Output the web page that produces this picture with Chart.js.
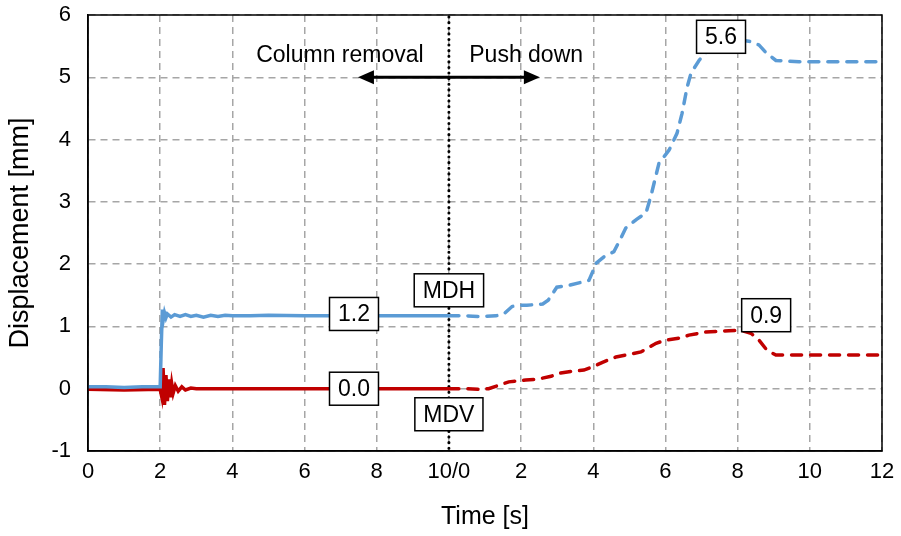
<!DOCTYPE html>
<html>
<head>
  <meta charset="UTF-8">
  <title>Displacement vs time</title>
  <script src="https://cdn.jsdelivr.net/npm/chart.js"></script>
  <style>
    body { margin: 0; background: #fff; }
    #chart-container { width: 901px; height: 536px; }
  </style>
</head>
<body>
  <div id="chart-container">
    <canvas id="graphCanvas"></canvas>
  </div>

  <script>
    // phase 1: column removal, time 0..10 s
    var mdhRemovalT = [0, 0.5, 1, 1.5, 2.0, 2.03, 2.06, 2.09, 2.12, 2.16, 2.2, 2.3, 2.4, 2.55, 2.7, 2.85, 3.0, 3.2, 3.4, 3.6, 3.8, 4.0, 4.5, 5, 6, 7, 8, 9, 10];
    var mdhRemoval  = [0.03, 0.03, 0.02, 0.03, 0.03, 0.7, 1.27, 1.12, 1.22, 1.14, 1.2, 1.15, 1.19, 1.16, 1.19, 1.16, 1.18, 1.15, 1.18, 1.16, 1.18, 1.17, 1.17, 1.18, 1.17, 1.17, 1.17, 1.17, 1.17];
    var mdvRemovalT = [0, 1, 2.0, 2.04, 2.08, 2.12, 2.16, 2.2, 2.24, 2.28, 2.32, 2.36, 2.42, 2.5, 2.6, 2.7, 2.85, 3.0, 4, 5, 6, 7, 8, 9, 10];
    var mdvRemoval  = [-0.01, -0.02, -0.01, -0.12, 0.33, -0.26, 0.22, -0.2, 0.15, -0.14, 0.08, -0.07, 0.05, -0.04, 0.03, -0.02, 0.01, 0.0, 0.0, 0.0, 0.0, 0.0, 0.0, 0.0, 0.0];

    // phase 2: push down, time 0..12 s (drawn after the 10 s of phase 1)
    var mdhPushT = [0, 0.5, 0.83, 1.3, 1.52, 1.75, 1.9, 2.16, 2.6, 2.75, 2.99, 3.33, 3.88, 4.0, 4.07, 4.3, 4.57, 4.75, 4.9, 5.2, 5.46, 5.6, 5.82, 6.1, 6.32, 6.46, 6.6, 6.71, 6.93, 7.12, 7.48, 8.04, 8.31, 8.59, 8.78, 9.06, 9.7, 12];
    var mdhPush  = [1.17, 1.17, 1.16, 1.17, 1.2, 1.32, 1.34, 1.34, 1.36, 1.42, 1.63, 1.66, 1.74, 1.9, 2.01, 2.12, 2.2, 2.4, 2.58, 2.72, 2.82, 3.1, 3.62, 3.83, 4.1, 4.42, 4.84, 5.07, 5.27, 5.4, 5.58, 5.6, 5.58, 5.52, 5.4, 5.27, 5.25, 5.25];
    var mdvPushT = [0, 0.5, 0.83, 1.1, 1.66, 2.13, 2.44, 2.83, 3.05, 3.41, 3.74, 4.02, 4.24, 4.63, 4.9, 5.32, 5.74, 6.01, 6.37, 6.65, 7.12, 7.76, 8.09, 8.37, 8.59, 8.81, 9.06, 12];
    var mdvPush  = [0.0, 0.0, -0.01, 0.0, 0.11, 0.14, 0.15, 0.2, 0.25, 0.28, 0.3, 0.36, 0.42, 0.51, 0.54, 0.59, 0.73, 0.78, 0.81, 0.86, 0.91, 0.93, 0.94, 0.89, 0.78, 0.62, 0.54, 0.54];

    var xTickLabels = ['0', '2', '4', '6', '8', '10/0', '2', '4', '6', '8', '10', '12'];
    var yTicks = [-1, 0, 1, 2, 3, 4, 5, 6];

    // value callouts: text, x (continuous time), y
    var calloutText = ['1.2', '0.0', '5.6', '0.9', 'MDH', 'MDV'];
    var calloutX = [7.37, 7.37, 17.54, 18.79, 10, 10];
    var calloutY = [1.2, 0.0, 5.65, 1.18, 1.58, -0.41];

    var removalLength = 10;
    var blue = '#5B9BD5';
    var red = '#C00000';

    function toPoints(ts, vs, offset) {
      var pts = [];
      for (var i = 0; i < ts.length; i++) {
        pts.push({ x: ts[i] + offset, y: vs[i] });
      }
      return pts;
    }

    var fontFace = '"Liberation Sans", Arial, sans-serif';

    var decorations = {
      id: 'decorations',
      beforeDatasetsDraw: function(chart) {
        var ctx = chart.ctx, a = chart.chartArea;
        var xs = chart.scales.x;
        var px = xs.getPixelForValue(removalLength);
        ctx.save();
        ctx.strokeStyle = '#000';
        ctx.lineWidth = 3;
        ctx.lineCap = 'round';
        ctx.setLineDash([0.1, 5.5]);
        ctx.beginPath();
        ctx.moveTo(px, a.top + 2);
        ctx.lineTo(px, a.bottom);
        ctx.stroke();
        ctx.restore();
      },
      afterDatasetsDraw: function(chart) {
        var ctx = chart.ctx, a = chart.chartArea;
        var xs = chart.scales.x, ys = chart.scales.y;
        ctx.save();

        // frame
        ctx.strokeStyle = '#000';
        ctx.lineWidth = 1.5;
        ctx.strokeRect(a.left, a.top, a.right - a.left, a.bottom - a.top);

        // double arrow
        var ay = ys.getPixelForValue(5);
        var x1 = xs.getPixelForValue(7.48), x2 = xs.getPixelForValue(12.52);
        ctx.lineWidth = 3;
        ctx.beginPath();
        ctx.moveTo(x1 + 10, ay);
        ctx.lineTo(x2 - 10, ay);
        ctx.stroke();
        ctx.fillStyle = '#000';
        ctx.beginPath();
        ctx.moveTo(x1, ay);
        ctx.lineTo(x1 + 16, ay - 7);
        ctx.lineTo(x1 + 16, ay + 7);
        ctx.closePath();
        ctx.fill();
        ctx.beginPath();
        ctx.moveTo(x2, ay);
        ctx.lineTo(x2 - 16, ay - 7);
        ctx.lineTo(x2 - 16, ay + 7);
        ctx.closePath();
        ctx.fill();

        ctx.font = '23px ' + fontFace;
        ctx.textAlign = 'center';
        ctx.textBaseline = 'middle';
        ctx.fillText('Column removal', xs.getPixelForValue(6.98), ys.getPixelForValue(5.35));
        ctx.fillText('Push down', xs.getPixelForValue(12.14), ys.getPixelForValue(5.35));

        // callout boxes
        ctx.lineWidth = 1.5;
        for (var i = 0; i < calloutText.length; i++) {
          var cx = xs.getPixelForValue(calloutX[i]);
          var cy = ys.getPixelForValue(calloutY[i]);
          var w = ctx.measureText(calloutText[i]).width + 17;
          var h = 33;
          ctx.fillStyle = '#fff';
          ctx.fillRect(cx - w / 2, cy - h / 2, w, h);
          ctx.strokeStyle = '#000';
          ctx.strokeRect(cx - w / 2, cy - h / 2, w, h);
          ctx.fillStyle = '#000';
          ctx.fillText(calloutText[i], cx, cy + 1);
        }
        ctx.restore();
      }
    };

    var chartdata = {
      datasets: [{
        label: 'MDH removal',
        data: toPoints(mdhRemovalT, mdhRemoval, 0),
        borderColor: blue,
        borderWidth: 3.5
      }, {
        label: 'MDV removal',
        data: toPoints(mdvRemovalT, mdvRemoval, 0),
        borderColor: red,
        borderWidth: 3.5
      }, {
        label: 'MDH push',
        data: toPoints(mdhPushT, mdhPush, removalLength),
        borderColor: blue,
        borderWidth: 3.5,
        borderDash: [10, 9],
        borderCapStyle: 'round'
      }, {
        label: 'MDV push',
        data: toPoints(mdvPushT, mdvPush, removalLength),
        borderColor: red,
        borderWidth: 3.5,
        borderDash: [10, 9],
        borderCapStyle: 'round'
      }]
    };

    var graphTarget = document.getElementById('graphCanvas');

    var lineGraph = new Chart(graphTarget, {
      type: 'line',
      data: chartdata,
      plugins: [decorations],
      options: {
        responsive: true,
        maintainAspectRatio: false,
        animation: false,
        layout: { padding: { top: 15, right: 19, left: 0, bottom: 0 } },
        elements: { point: { radius: 0 }, line: { tension: 0, fill: false } },
        plugins: { legend: { display: false }, tooltip: { enabled: false } },
        scales: {
          x: {
            type: 'linear',
            min: 0,
            max: 22,
            afterFit: function(scale) {
              scale.height = 85;
              scale.paddingLeft = 0;
              scale.paddingRight = 0;
            },
            afterBuildTicks: function(scale) {
              scale.ticks = xTickLabels.map(function(l, i) { return { value: i * 2 }; });
            },
            ticks: {
              autoSkip: false,
              maxRotation: 0,
              padding: 8,
              color: '#000',
              font: { family: fontFace, size: 22 },
              callback: function(v) { return xTickLabels[Math.round(v / 2)]; }
            },
            grid: { color: '#a6a6a6', lineWidth: 1.5, drawTicks: false },
            border: { display: true, color: '#000', width: 1.5, dash: [7, 5] },
            title: {
              display: true,
              text: 'Time [s]',
              color: '#000',
              font: { family: fontFace, size: 25 },
              padding: { top: 4, bottom: 4 }
            }
          },
          y: {
            min: -1,
            max: 6,
            afterFit: function(scale) {
              scale.width = 88;
              scale.paddingTop = 0;
              scale.paddingBottom = 0;
            },
            afterBuildTicks: function(scale) {
              scale.ticks = yTicks.map(function(v) { return { value: v }; });
            },
            ticks: {
              padding: 17,
              color: '#000',
              font: { family: fontFace, size: 22 }
            },
            grid: { color: '#a6a6a6', lineWidth: 1.5, drawTicks: false },
            border: { display: true, color: '#000', width: 1.5, dash: [7, 5] },
            title: {
              display: true,
              text: 'Displacement [mm]',
              color: '#000',
              font: { family: fontFace, size: 27 },
              padding: { top: 4, bottom: 4 }
            }
          }
        }
      }
    });
  </script>
</body>
</html>
